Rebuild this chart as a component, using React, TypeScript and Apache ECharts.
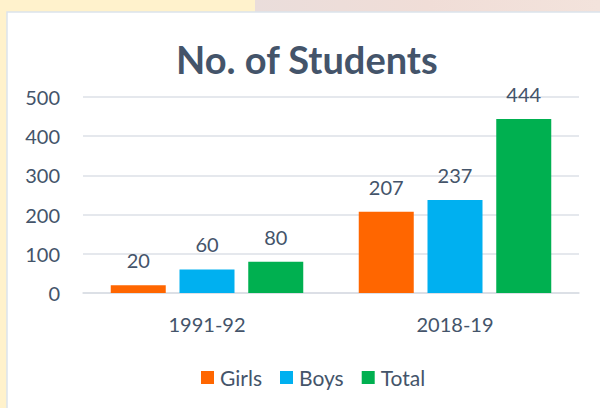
import React, { useEffect, useRef } from "react";
import * as echarts from "echarts";

const categories = ["1991-92", "2018-19"];
const girls = [20, 207];
const boys = [60, 237];
const total = [80, 444];
const seriesNames = ["Girls", "Boys", "Total"];
const colors = ["#FF6600", "#00B0F0", "#00B050"];

const TEXT = "#44546A";
const FONT = "Lato, 'Open Sans', sans-serif";

export default function App() {
  const ref = useRef<HTMLDivElement>(null);
  useEffect(() => {
    document.body.style.margin = "0";
    const chart = echarts.init(ref.current!, null, { renderer: "svg" });
    const data = [girls, boys, total];
    chart.setOption({
      animation: false,
      backgroundColor: "#FFF2CC",
      graphic: [
        {
          type: "rect",
          shape: { x: 255, y: 0, width: 345, height: 12 },
          style: {
            fill: new echarts.graphic.LinearGradient(0, 0, 1, 0, [
              { offset: 0, color: "#EADDDB" },
              { offset: 0.5, color: "#F0DDD7" },
              { offset: 1, color: "#F3E3DC" },
            ]),
          },
          silent: true,
          z: -10,
        },
        {
          type: "rect",
          shape: { x: 7, y: 12, width: 600, height: 410 },
          style: { fill: "#FFFFFF", stroke: "#DCE3EC", lineWidth: 1.5 },
          silent: true,
          z: -9,
        },
      ],
      title: {
        text: "No. of Students",
        left: 171,
        top: 35,
        textStyle: { fontFamily: FONT, fontSize: 38, fontWeight: "bold", color: TEXT },
      },
      legend: {
        data: seriesNames,
        left: 196,
        top: 362,
        itemWidth: 13,
        itemHeight: 13,
        itemGap: 18,
        icon: "rect",
        textStyle: { fontFamily: FONT, fontSize: 21, color: TEXT, padding: [0, 0, 0, 1] },
      },
      grid: { left: 83, right: 21, top: 97, bottom: 115, containLabel: false },
      xAxis: {
        type: "category",
        data: categories,
        axisLine: { lineStyle: { color: "#D9DDE3", width: 1.5 } },
        axisTick: { show: false },
        axisLabel: { fontFamily: FONT, fontSize: 20, color: TEXT, margin: 21 },
      },
      yAxis: {
        type: "value",
        min: 0,
        max: 500,
        interval: 100,
        axisLine: { show: false },
        axisTick: { show: false },
        splitLine: { lineStyle: { color: "#DDE1E7", width: 1.5 } },
        axisLabel: { fontFamily: FONT, fontSize: 20, color: TEXT, margin: 23 },
      },
      series: seriesNames.map((name, i) => ({
        name,
        type: "bar",
        data: data[i],
        barWidth: 55,
        barGap: "25%",
        itemStyle: { color: colors[i] },
        label: {
          show: true,
          position: "top",
          distance: 15,
          fontFamily: FONT,
          fontSize: 20,
          color: TEXT,
        },
      })),
    });
    return () => chart.dispose();
  }, []);
  return <div ref={ref} style={{ width: 600, height: 408, position: "fixed", left: 0, top: 0 }} />;
}
